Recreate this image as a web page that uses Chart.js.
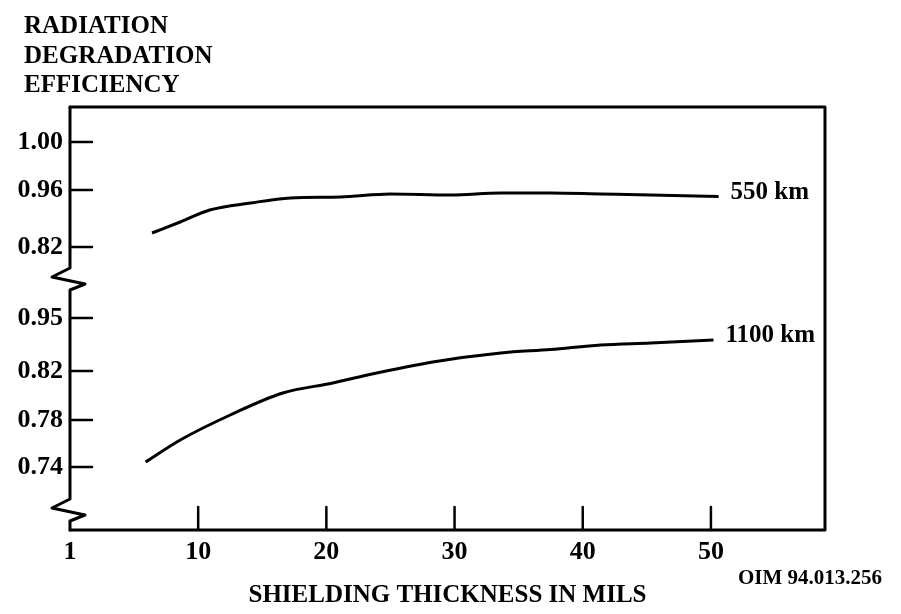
<!DOCTYPE html>
<html>
<head>
<meta charset="utf-8">
<script src="https://cdn.jsdelivr.net/npm/chart.js@4.4.1/dist/chart.umd.min.js"></script>
<style>
  html, body { margin: 0; padding: 0; background: #fff; }
  #wrap { width: 901px; height: 614px; }
</style>
</head>
<body>
<div id="wrap"><canvas id="effChart"></canvas></div>
<script>
// shielding thickness (mils)
const thick550 = [6.4, 8.6, 10.9, 14.1, 17.2, 21.1, 25.0, 29.7, 33.6, 37.5, 41.4, 45.3, 50.6];
const pos550   = [29.7, 30.8, 32.0, 32.7, 33.2, 33.3, 33.6, 33.5, 33.7, 33.7, 33.6, 33.5, 33.35];
const thick1100 = [5.9, 8.6, 12.5, 16.6, 20.5, 23.2, 28.3, 33.6, 37.5, 41.4, 45.3, 50.2];
const pos1100   = [6.8, 9.0, 11.5, 13.7, 14.7, 15.5, 16.8, 17.7, 18.05, 18.5, 18.7, 19.0];

// y axis is broken, so values sit on a positional scale with printed labels
const yTickPos    = [38.8, 34.0, 28.3, 21.2, 15.9, 11.0, 6.3];
const yTickLabels = ["1.00", "0.96", "0.82", "0.95", "0.82", "0.78", "0.74"];
const axisBreaks  = [25.1, 2.0];

const xTickValues = [0, 10, 20, 30, 40, 50];
const xTickLabels = ["1", "10", "20", "30", "40", "50"];

const titleLines = ["RADIATION", "DEGRADATION", "EFFICIENCY"];
const serif = "'Liberation Serif', 'DejaVu Serif', serif";

const toPoints = (xs, ys) => xs.map((v, i) => ({ x: v, y: ys[i] }));

const framePlugin = {
  id: "frame",
  afterDraw(chart) {
    const ctx = chart.ctx;
    const { left, right, top, bottom } = chart.chartArea;
    const xs = chart.scales.x, ys = chart.scales.y;
    ctx.save();
    ctx.strokeStyle = "#000";
    ctx.lineWidth = 3;
    ctx.lineCap = "round";
    ctx.lineJoin = "round";

    // top, right and bottom sides
    ctx.beginPath();
    ctx.moveTo(left, top);
    ctx.lineTo(right, top);
    ctx.lineTo(right, bottom);
    ctx.lineTo(left, bottom);
    ctx.stroke();

    // left axis with break marks
    ctx.beginPath();
    ctx.moveTo(left, top);
    axisBreaks.forEach(b => {
      const c = ys.getPixelForValue(b);
      ctx.lineTo(left, c - 11);
      ctx.lineTo(left - 18, c - 2);
      ctx.lineTo(left + 15, c + 5);
      ctx.lineTo(left, c + 11);
    });
    ctx.lineTo(left, bottom);
    ctx.stroke();

    // inward tick marks
    ctx.lineWidth = 2.5;
    ctx.beginPath();
    yTickPos.forEach(v => {
      const p = ys.getPixelForValue(v);
      ctx.moveTo(left, p);
      ctx.lineTo(left + 22, p);
    });
    xTickValues.slice(1).forEach(v => {
      const p = xs.getPixelForValue(v);
      ctx.moveTo(p, bottom);
      ctx.lineTo(p, bottom - 23);
    });
    ctx.stroke();

    // curve labels at line ends
    ctx.fillStyle = "#000";
    ctx.font = "bold 25px " + serif;
    ctx.textAlign = "left";
    ctx.textBaseline = "middle";
    chart.data.datasets.forEach((ds, i) => {
      const pts = chart.getDatasetMeta(i).data;
      const last = pts[pts.length - 1];
      ctx.fillText(ds.label, last.x + 12, last.y - 4);
    });

    // axis title top-left
    ctx.font = "bold 25px " + serif;
    ctx.textBaseline = "alphabetic";
    titleLines.forEach((t, i) => ctx.fillText(t, 24, 33 + i * 29.5));

    // figure id
    ctx.font = "bold 21px " + serif;
    ctx.fillText("OIM 94.013.256", 738, 584);
    ctx.restore();
  }
};

new Chart(document.getElementById("effChart").getContext("2d"), {
  type: "line",
  data: {
    datasets: [
      {
        label: "550 km",
        data: toPoints(thick550, pos550),
        borderColor: "#000",
        borderWidth: 3,
        pointRadius: 0,
        tension: 0.4,
        cubicInterpolationMode: "monotone"
      },
      {
        label: "1100 km",
        data: toPoints(thick1100, pos1100),
        borderColor: "#000",
        borderWidth: 3,
        pointRadius: 0,
        tension: 0.4,
        cubicInterpolationMode: "monotone"
      }
    ]
  },
  options: {
    responsive: true,
    maintainAspectRatio: false,
    animation: false,
    layout: { padding: { top: 107, right: 76, left: 0, bottom: 0 } },
    plugins: {
      legend: { display: false },
      tooltip: { enabled: false }
    },
    scales: {
      x: {
        type: "linear",
        min: 0,
        max: 58.9,
        grid: { display: false, drawTicks: false },
        border: { display: false },
        afterBuildTicks: s => { s.ticks = xTickValues.map(v => ({ value: v })); },
        afterFit: s => { s.height = 84; },
        ticks: {
          padding: 7,
          color: "#000",
          font: { family: serif, size: 26, weight: "bold" },
          callback: (v) => xTickLabels[xTickValues.indexOf(v)]
        },
        title: {
          display: true,
          text: "SHIELDING THICKNESS IN MILS",
          color: "#000",
          font: { family: serif, size: 25, weight: "bold" },
          padding: { top: 0, bottom: 3 }
        }
      },
      y: {
        type: "linear",
        min: 0,
        max: 42.3,
        grid: { display: false, drawTicks: false },
        border: { display: false },
        afterBuildTicks: s => { s.ticks = yTickPos.map(v => ({ value: v })); },
        afterFit: s => { s.width = 70; },
        ticks: {
          padding: 7,
          color: "#000",
          font: { family: serif, size: 26, weight: "bold" },
          callback: (v) => yTickLabels[yTickPos.indexOf(v)]
        }
      }
    }
  },
  plugins: [framePlugin]
});
</script>
</body>
</html>
